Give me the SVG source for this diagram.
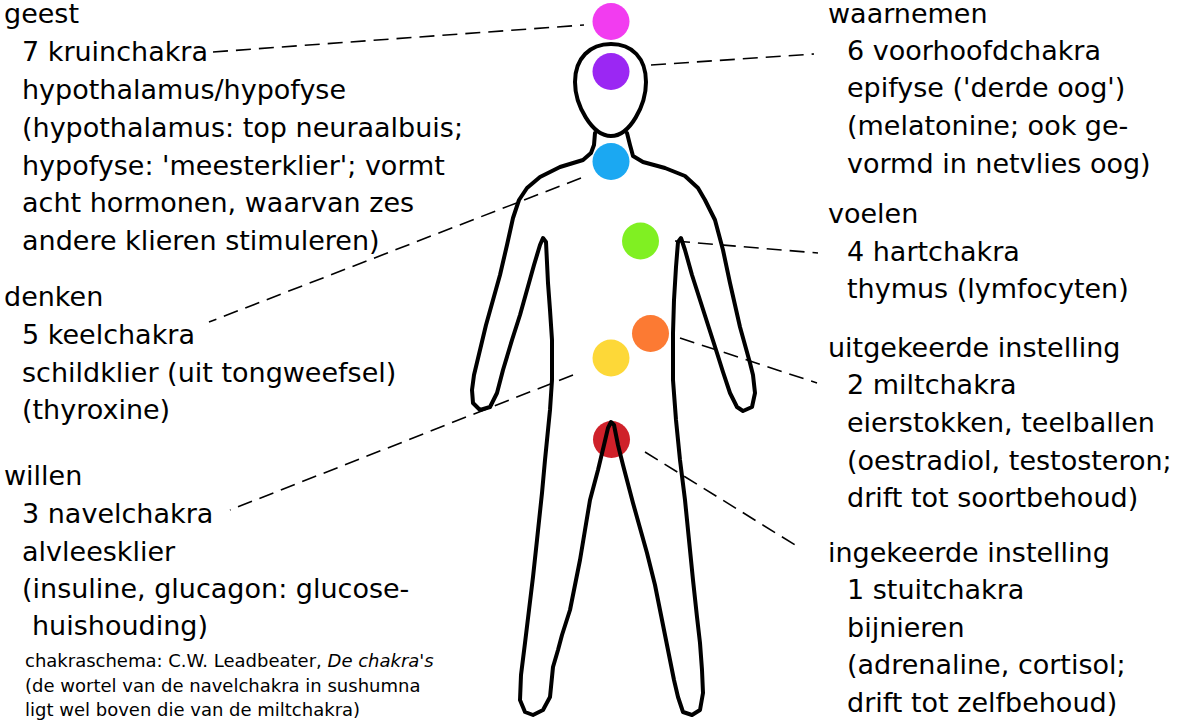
<svg xmlns="http://www.w3.org/2000/svg" width="1181" height="722" viewBox="0 0 1181 722">
<style>
text{font-family:"DejaVu Sans","Liberation Sans",sans-serif;fill:#000}
.t{font-size:27px}
.s{font-size:18px}
.body{fill:none;stroke:#000;stroke-width:4;stroke-linejoin:round;stroke-linecap:round}
.con{stroke:#000;stroke-width:1.6;stroke-dasharray:15 8;fill:none}
</style>
<rect width="1181" height="722" fill="#fff"/>
<g id="chakras">
<circle id="c7" cx="611" cy="21.5" r="18.5" fill="#f23cf0"/>
<circle id="c6" cx="611" cy="71.5" r="18.5" fill="#9b27f3"/>
<circle id="c5" cx="611" cy="161.5" r="18.5" fill="#1ba8f2"/>
<circle id="c4" cx="640.5" cy="241" r="18.5" fill="#80f022"/>
<circle id="c2" cx="650.5" cy="333.5" r="18.5" fill="#fc7a33"/>
<circle id="c3" cx="611" cy="358" r="18.5" fill="#fdd838"/>
<circle id="c1" cx="611.5" cy="439.5" r="18.5" fill="#cf212a"/>
</g>
<g id="figure">
<path class="body" d="M611,44 C632,44 646,58 646,82 C646,105 630,136 611,136 C592,136 575,105 575,82 C575,58 590,44 611,44 Z"/>
<polyline class="body" points="595,133 594,145 591,153 583,160 560,167 540,177 527,188 519,200 513,218 507,245 500,275 493,300 486,325 480,350 474,375 472,390 473,403 480,410 490,407 497,393 503,370 512,340 520,315 527,290 534,265 540,245 543,238 546,242 548,283 550,310 552,340 552,380 550,410 548,430 545,460 542,493 537,540 533,577 529,610 525,643 521,675 520,700 525,712 533,715 543,710 550,697 553,667 558,650 562,635 570,610 575,585 580,560 585,530 590,500 598,470 604,445 608,428 611,422 614,425 618,445 623,465 633,503 640,528 647,553 655,585 660,610 665,635 670,660 674,680 678,697 683,712 692,715 700,710 703,693 702,670 700,643 697,617 693,580 690,550 685,500 680,460 676,420 673,380 673,333 674,300 676,267 678,242 681,238 685,250 692,275 700,300 708,325 717,353 723,372 730,393 737,407 743,411 752,407 755,393 753,375 750,363 745,345 740,327 735,305 730,283 723,250 715,220 705,200 698,188 685,176 665,168 643,162 633,156 630,145 627,133"/>
</g>
<g id="connectors">
<line class="con" x1="213" y1="52" x2="584" y2="25"/>
<line class="con" x1="651" y1="65" x2="814" y2="54"/>
<line class="con" x1="581" y1="178" x2="209" y2="322"/>
<line class="con" x1="675" y1="241" x2="818" y2="253"/>
<line class="con" x1="680" y1="338" x2="817" y2="383"/>
<line class="con" x1="573" y1="375" x2="230" y2="510"/>
<line class="con" x1="645" y1="452" x2="800" y2="548"/>
</g>
<g id="node-geest">
<text class="t" x="4" y="23">geest</text>
<text class="t" x="22" y="61">7 kruinchakra</text>
<text class="t" x="22" y="99">hypothalamus/hypofyse</text>
<text class="t" x="22" y="137">(hypothalamus: top neuraalbuis;</text>
<text class="t" x="22" y="175">hypofyse: 'meesterklier'; vormt</text>
<text class="t" x="22" y="212">acht hormonen, waarvan zes</text>
<text class="t" x="22" y="250">andere klieren stimuleren)</text>
</g>
<g id="node-denken">
<text class="t" x="4" y="306">denken</text>
<text class="t" x="22" y="344">5 keelchakra</text>
<text class="t" x="22" y="382">schildklier (uit tongweefsel)</text>
<text class="t" x="22" y="419">(thyroxine)</text>
</g>
<g id="node-willen">
<text class="t" x="4" y="485">willen</text>
<text class="t" x="22" y="523">3 navelchakra</text>
<text class="t" x="22" y="561">alvleesklier</text>
<text class="t" x="22" y="598">(insuline, glucagon: glucose-</text>
<text class="t" x="32" y="635">huishouding)</text>
</g>
<g id="note">
<text class="s" x="25" y="667">chakraschema: C.W. Leadbeater, <tspan font-style="italic">De chakra's</tspan></text>
<text class="s" x="25" y="692">(de wortel van de navelchakra in sushumna</text>
<text class="s" x="25" y="716">ligt wel boven die van de miltchakra)</text>
</g>
<g id="node-waarnemen">
<text class="t" x="828" y="23">waarnemen</text>
<text class="t" x="847" y="60">6 voorhoofdchakra</text>
<text class="t" x="847" y="97">epifyse ('derde oog')</text>
<text class="t" x="847" y="135">(melatonine; ook ge-</text>
<text class="t" x="847" y="173">vormd in netvlies oog)</text>
</g>
<g id="node-voelen">
<text class="t" x="828" y="223">voelen</text>
<text class="t" x="847" y="261">4 hartchakra</text>
<text class="t" x="847" y="298">thymus (lymfocyten)</text>
</g>
<g id="node-uitgekeerde">
<text class="t" x="828" y="357">uitgekeerde instelling</text>
<text class="t" x="847" y="394">2 miltchakra</text>
<text class="t" x="847" y="432">eierstokken, teelballen</text>
<text class="t" x="847" y="470">(oestradiol, testosteron;</text>
<text class="t" x="847" y="507">drift tot soortbehoud)</text>
</g>
<g id="node-ingekeerde">
<text class="t" x="828" y="562">ingekeerde instelling</text>
<text class="t" x="847" y="599">1 stuitchakra</text>
<text class="t" x="847" y="637">bijnieren</text>
<text class="t" x="847" y="674">(adrenaline, cortisol;</text>
<text class="t" x="847" y="712">drift tot zelfbehoud)</text>
</g>
</svg>
